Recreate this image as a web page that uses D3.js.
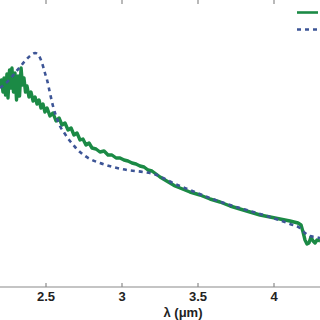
<!DOCTYPE html>
<html>
<head>
<meta charset="utf-8">
<script src="https://cdn.jsdelivr.net/npm/d3@7"></script>
<style>
  html, body { margin: 0; padding: 0; background: #fff; }
  svg { display: block; }
</style>
</head>
<body>
<div id="chart"></div>
<script>
// wavelength ticks along the x axis
const xTicks = [2.5, 3, 3.5, 4]

// observed spectrum (green, noisy)
const obsLambda = [2.197, 2.207, 2.217, 2.224, 2.234, 2.243, 2.250, 2.260, 2.270, 2.276,
  2.286, 2.296, 2.306, 2.316, 2.326, 2.336, 2.345, 2.355, 2.365, 2.375,
  2.388, 2.401, 2.415, 2.428, 2.441, 2.454, 2.467, 2.480, 2.493, 2.507,
  2.526, 2.546, 2.566, 2.586, 2.605, 2.625, 2.645, 2.665, 2.684, 2.704,
  2.724, 2.743, 2.763, 2.783, 2.803, 2.829, 2.855, 2.882, 2.908, 2.934,
  2.961, 2.987, 3.013, 3.039, 3.066, 3.092, 3.118, 3.145, 3.171, 3.197,
  3.224, 3.250, 3.283, 3.316, 3.349, 3.382, 3.447, 3.513, 3.579, 3.645,
  3.711, 3.776, 3.842, 3.908, 3.974, 4.039, 4.105, 4.158, 4.178, 4.191,
  4.204, 4.217, 4.230, 4.243, 4.257, 4.270, 4.283, 4.303]
const obsFlux = [2.01, 2.07, 1.95, 2.09, 1.92, 2.13, 1.89, 2.17, 1.99, 2.19,
  1.95, 2.14, 1.87, 2.11, 1.91, 2.19, 2.02, 2.09, 1.95, 2.01,
  1.90, 1.95, 1.86, 1.90, 1.83, 1.87, 1.79, 1.83, 1.75, 1.79,
  1.71, 1.74, 1.66, 1.69, 1.62, 1.64, 1.57, 1.59, 1.52, 1.54,
  1.47, 1.48, 1.42, 1.44, 1.39, 1.38, 1.35, 1.36, 1.32, 1.32,
  1.29, 1.29, 1.27, 1.26, 1.24, 1.23, 1.21, 1.20, 1.17, 1.16,
  1.13, 1.10, 1.07, 1.04, 1.01, 0.99, 0.95, 0.92, 0.88, 0.85,
  0.81, 0.78, 0.75, 0.72, 0.70, 0.68, 0.66, 0.64, 0.62, 0.55,
  0.47, 0.43, 0.44, 0.50, 0.46, 0.44, 0.47, 0.46]

// model spectrum (blue, dashed)
const modLambda = [2.197, 2.230, 2.263, 2.296, 2.329, 2.362, 2.395, 2.428, 2.454, 2.474,
  2.493, 2.507, 2.526, 2.546, 2.566, 2.592, 2.625, 2.658, 2.691, 2.724,
  2.757, 2.789, 2.855, 2.941, 3.033, 3.138, 3.230, 3.283, 3.349, 3.447,
  3.579, 3.711, 3.842, 3.974, 4.105, 4.171, 4.204, 4.237, 4.270, 4.303]
const modFlux = [1.99, 2.03, 2.08, 2.14, 2.20, 2.26, 2.31, 2.34, 2.31, 2.24,
  2.14, 2.07, 1.94, 1.81, 1.71, 1.61, 1.53, 1.46, 1.40, 1.35,
  1.31, 1.28, 1.24, 1.20, 1.17, 1.15, 1.12, 1.08, 1.03, 0.97,
  0.89, 0.82, 0.76, 0.70, 0.63, 0.59, 0.54, 0.51, 0.50, 0.49]

const width = 320
const height = 320
const green = "#1b8a45"
const blue = "#3d5596"

const x = d3.scaleLinear().domain([2.5, 4]).range([46, 274])
const y = d3.scaleLinear().domain([0, 3]).range([287, -13])

const svg = d3.select("#chart").append("svg")
  .attr("width", width)
  .attr("height", height)
  .style("font-family", "'Liberation Sans', Arial, sans-serif")

// bottom axis, ticks pointing inward
const bottom = svg.append("g")
  .attr("transform", `translate(0,${y(0)})`)
bottom.append("line")
  .attr("x1", 0).attr("x2", width)
  .attr("stroke", "#8a8a8a").attr("stroke-width", 1.2)
bottom.selectAll(".tk")
  .data(xTicks)
  .join("line")
  .attr("x1", d => x(d)).attr("x2", d => x(d))
  .attr("y1", 0).attr("y2", -4)
  .attr("stroke", "#8a8a8a").attr("stroke-width", 1.2)
bottom.selectAll("text")
  .data(xTicks)
  .join("text")
  .attr("x", d => x(d))
  .attr("y", 13.5)
  .attr("text-anchor", "middle")
  .attr("font-size", 13)
  .attr("font-weight", "bold")
  .attr("fill", "#222")
  .text(d => d)

// top ticks (axis line sits above the visible area)
svg.append("g").selectAll("line")
  .data(xTicks)
  .join("line")
  .attr("x1", d => x(d)).attr("x2", d => x(d))
  .attr("y1", 0).attr("y2", 4)
  .attr("stroke", "#8a8a8a").attr("stroke-width", 1.2)

svg.append("text")
  .attr("x", 183)
  .attr("y", 316.5)
  .attr("text-anchor", "middle")
  .attr("font-size", 13)
  .attr("font-weight", "bold")
  .attr("fill", "#222")
  .text("λ (μm)")

const obs = obsLambda.map((l, i) => ({ l, f: obsFlux[i] }))
const mod = modLambda.map((l, i) => ({ l, f: modFlux[i] }))

svg.append("path")
  .datum(obs)
  .attr("fill", "none")
  .attr("stroke", green)
  .attr("stroke-width", 3.4)
  .attr("stroke-linejoin", "round")
  .attr("d", d3.line().x(d => x(d.l)).y(d => y(d.f)))

svg.append("path")
  .datum(mod)
  .attr("fill", "none")
  .attr("stroke", blue)
  .attr("stroke-width", 2.6)
  .attr("stroke-dasharray", "4,4")
  .attr("d", d3.line().curve(d3.curveMonotoneX).x(d => x(d.l)).y(d => y(d.f)))

// legend (labels fall outside the crop)
svg.append("line")
  .attr("x1", 297).attr("x2", 318).attr("y1", 12.5).attr("y2", 12.5)
  .attr("stroke", green).attr("stroke-width", 2.6)
svg.append("line")
  .attr("x1", 297).attr("x2", 318).attr("y1", 29.5).attr("y2", 29.5)
  .attr("stroke", blue).attr("stroke-width", 2.6)
  .attr("stroke-dasharray", "4,4")
</script>
</body>
</html>
